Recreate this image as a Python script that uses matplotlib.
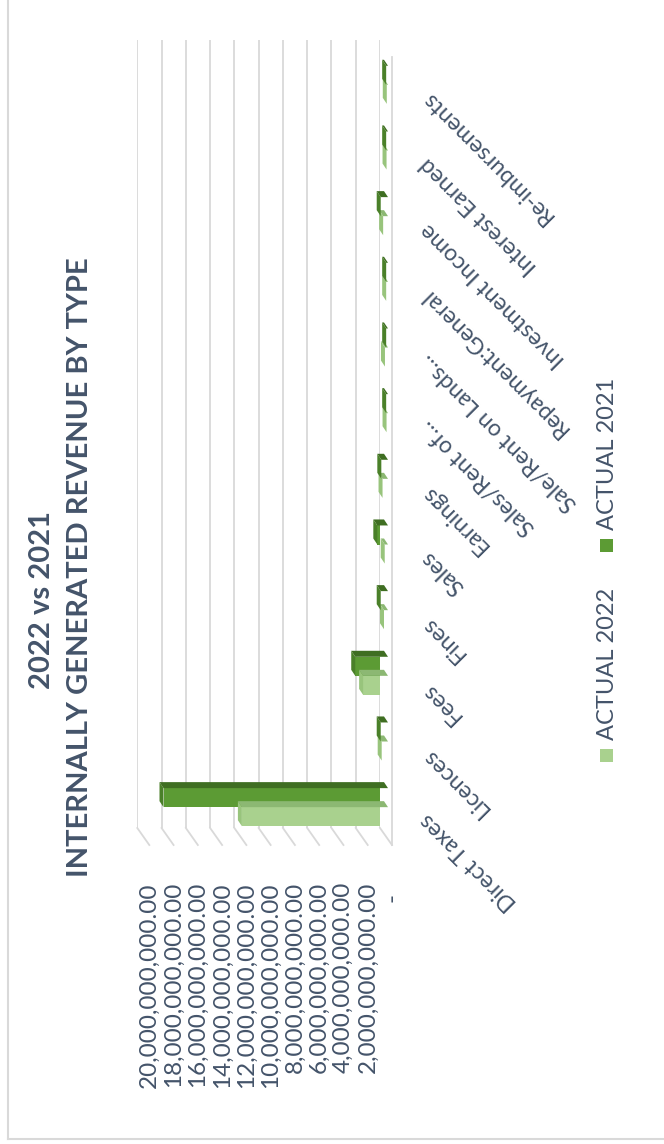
import matplotlib
matplotlib.use("Agg")
import matplotlib.pyplot as plt
import numpy as np
from matplotlib.patches import Polygon, Rectangle
from matplotlib.lines import Line2D
from matplotlib.transforms import ScaledTranslation, IdentityTransform

# ---- data -------------------------------------------------------------
categories = ["Direct Taxes", "Licences", "Fees", "Fines", "Sales", "Earnings",
              "Sales/Rent of...", "Sale/Rent on Lands...", "Repayment:General",
              "Investment Income", "Interest Earned", "Re-imbursements"]
actual_2022 = [12.04e9, 0.52e9, 2.05e9, 0.33e9, 0.27e9, 0.45e9,
               0.12e9, 0.25e9, 0.15e9, 0.40e9, 0.12e9, 0.10e9]
actual_2021 = [18.50e9, 0.60e9, 2.70e9, 0.60e9, 0.88e9, 0.55e9,
               0.15e9, 0.15e9, 0.15e9, 0.60e9, 0.15e9, 0.15e9]
series_names = ["ACTUAL 2022", "ACTUAL 2021"]
value_ticks = np.arange(0, 20e9 + 1, 2e9)
tick_labels = ["-"] + [f"{v:,.2f}" for v in value_ticks[1:]]
title_lines = ["2022 vs 2021", "INTERNALLY GENERATED REVENUE BY TYPE"]

# ---- styling ----------------------------------------------------------
plt.rcParams["font.family"] = ["Lato", "DejaVu Sans"]
TEXT = "#44546a"
GRID = "#d9d9d9"
light = dict(front="#a9d18e", side="#8cb873", cap="#98c47c")
dark = dict(front="#5c9b34", side="#3f6e22", cap="#4a8029")

W, H = 664, 1144
fig = plt.figure(figsize=(W / 100, H / 100), dpi=100)


def fx(px):
    return px / W


def fy(py):
    return 1 - py / H


# back wall of the (rotated) 3-D plot area
ax = fig.add_axes([fx(137.3), fy(828), fx(380) - fx(137.3), fy(40) - fy(828)])
ax.patch.set_alpha(0)
for s in ax.spines.values():
    s.set_visible(False)
ax.set_xticks(value_ticks)
ax.set_yticks([])
ax.tick_params(length=0, labelbottom=False, labelleft=False)
ax.grid(axis="x", color=GRID, lw=1.3)
ax.set_axisbelow(True)
ax.set_xlim(20e9, 0)
ax.set_ylim(-0.5, len(categories) - 0.5)

# 3-D offsets in pixels (image x right, image y down)
FLOOR = (12, 17)     # back wall -> front edge of floor
BAR = (8, 12)        # back wall -> front face of bars
DEPTH = (-4, -6)     # front face -> back face of a bar


def disp(x, y, off=(0, 0)):
    p = ax.transData.transform((x, y))
    return (p[0] + off[0], p[1] - off[1])


def line_px(p0, p1, **kw):
    fig.add_artist(Line2D([p0[0], p1[0]], [p0[1], p1[1]],
                          transform=IdentityTransform(), **kw))


# floor lines running from the wall to the front edge
for v in value_ticks:
    line_px(disp(v, -0.5), disp(v, -0.5, FLOOR), color=GRID, lw=1.3)
line_px(disp(0, len(categories) - 0.5, FLOOR), disp(0, -0.5, FLOOR),
        color=GRID, lw=1.3)

# bars
bar_h = 0.29
ypos = np.arange(len(categories))
front_tr = ax.transData + ScaledTranslation(BAR[0] / 100, -BAR[1] / 100,
                                             fig.dpi_scale_trans)


def shifted(p, d):
    return (p[0] + d[0], p[1] - d[1])


def draw_series(values, centers, colors):
    for v, c in zip(values, centers):
        top, bot = c + bar_h / 2, c - bar_h / 2
        lt, rt = disp(v, top, BAR), disp(0, top, BAR)
        lb = disp(v, bot, BAR)
        side = [rt, lt, shifted(lt, DEPTH), shifted(rt, DEPTH)]
        cap = [lt, lb, shifted(lb, DEPTH), shifted(lt, DEPTH)]
        for pts, col in ((side, colors["side"]), (cap, colors["cap"])):
            fig.add_artist(Polygon(pts, closed=True, transform=IdentityTransform(),
                                   facecolor=col, edgecolor="none"))
    ax.barh(centers, values, height=bar_h, color=colors["front"],
            transform=front_tr, zorder=3)


draw_series(actual_2022, ypos - bar_h / 2, light)
draw_series(actual_2021, ypos + bar_h / 2, dark)
ax.set_xlim(20e9, 0)
ax.set_ylim(-0.5, len(categories) - 0.5)

# value axis labels (rotated)
for v, lab in zip(value_ticks, tick_labels):
    x, _ = disp(v, -0.5, FLOOR)
    if lab == "-":
        fig.text(x / W, fy(897), lab, rotation=90, ha="center", va="center",
                 fontsize=17.5, color=TEXT)
    else:
        fig.text(x / W, fy(882), lab, rotation=90, ha="center", va="top",
                 fontsize=17.5, color=TEXT)

# category labels
for i, name in enumerate(categories):
    x, y = disp(0, i, BAR)
    fig.text(424 / W, (y - 10) / H, name, rotation=135, rotation_mode="anchor",
             ha="right", va="center", fontsize=16.5, color=TEXT)

# title
fig.text(fx(42), fy(600), title_lines[0], rotation=90, ha="center", va="center",
         fontsize=21, fontweight="bold", color=TEXT)
fig.text(fx(80), fy(567), title_lines[1], rotation=90, ha="center", va="center",
         fontsize=21, fontweight="bold", color=TEXT)

# legend
for name, col, sq_y, txt_y in ((series_names[0], light["front"], 755, 740),
                               (series_names[1], dark["front"], 545, 530)):
    fig.add_artist(Rectangle((fx(600), fy(sq_y + 7)), 13 / W, 13 / H,
                             transform=fig.transFigure, facecolor=col,
                             edgecolor="none"))
    fig.text(fx(607), fy(txt_y), name, rotation=90, ha="center", va="bottom",
             fontsize=17, color=TEXT)

# chart border
fig.add_artist(Line2D([fx(8), fx(8)], [fy(1139), 1.0], transform=fig.transFigure,
                      color=GRID, lw=1.5))
fig.add_artist(Line2D([fx(8), 1.0], [fy(1139), fy(1139)], transform=fig.transFigure,
                      color=GRID, lw=1.5))

fig.savefig("out.png", dpi=100, facecolor="white")
